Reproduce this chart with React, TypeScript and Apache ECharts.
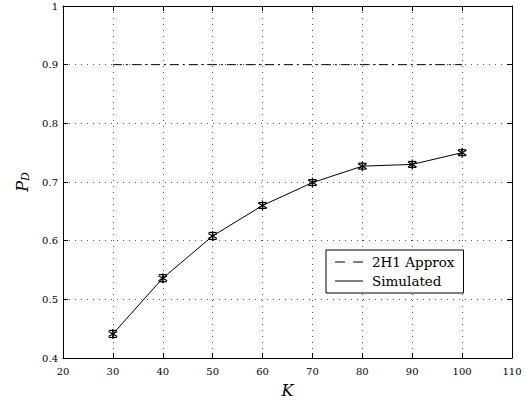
import React, { useEffect, useRef } from "react";
import * as echarts from "echarts";

const kValues = [30, 40, 50, 60, 70, 80, 90, 100];
const simulated = [0.441, 0.536, 0.608, 0.66, 0.699, 0.727, 0.73, 0.75];
const simErr = [0.006, 0.006, 0.006, 0.005, 0.005, 0.005, 0.005, 0.005];
const approx = [0.9, 0.9, 0.9, 0.9, 0.9, 0.9, 0.9, 0.9];

const FONT = "DejaVu Serif";

export default function App() {
  const ref = useRef<HTMLDivElement>(null);
  useEffect(() => {
    if (!ref.current) return;
    const chart = echarts.init(ref.current, null, { renderer: "svg" });
    const axisCommon = {
      axisLine: { show: true, lineStyle: { color: "#000", width: 1 } },
      axisTick: { show: true, inside: true, length: 5, lineStyle: { color: "#000" } },
    };
    const option: any = {
      animation: false,
      backgroundColor: "#fff",
      grid: { left: 63, top: 6, right: 14, bottom: 43, containLabel: false },
      xAxis: [
        {
          type: "value",
          min: 20,
          max: 110,
          interval: 10,
          ...axisCommon,
          axisLabel: { color: "#000", fontFamily: FONT, fontSize: 10, margin: 8 },
          splitLine: { show: true, lineStyle: { color: "#555", type: [1, 5], width: 1 } },
          name: "K",
          nameLocation: "middle",
          nameGap: 24,
          nameTextStyle: { fontFamily: FONT, fontStyle: "italic", fontSize: 16, color: "#000" },
        },
        {
          type: "value",
          position: "top",
          min: 20,
          max: 110,
          interval: 10,
          ...axisCommon,
          axisLabel: { show: false },
          splitLine: { show: false },
        },
      ],
      yAxis: [
        {
          type: "value",
          min: 0.4,
          max: 1,
          interval: 0.1,
          ...axisCommon,
          axisLabel: {
            color: "#000",
            fontFamily: FONT,
            fontSize: 10,
            margin: 5,
            formatter: (v: number) => (Math.abs(v - 1) < 1e-9 ? "1" : String(Math.round(v * 10) / 10)),
          },
          splitLine: { show: true, lineStyle: { color: "#555", type: [1, 5], width: 1 } },
          name: "{p|P}{d|D}",
          nameLocation: "middle",
          nameGap: 32,
          nameRotate: 90,
          nameTextStyle: {
            color: "#000",
            rich: {
              p: { fontFamily: FONT, fontStyle: "italic", fontSize: 16, color: "#000" },
              d: { fontFamily: FONT, fontStyle: "italic", fontSize: 11, color: "#000", verticalAlign: "bottom", padding: [6, 0, 0, 0] },
            },
          },
        },
        {
          type: "value",
          position: "right",
          min: 0.4,
          max: 1,
          interval: 0.1,
          ...axisCommon,
          axisLabel: { show: false },
          splitLine: { show: false },
        },
      ],
      legend: {
        left: 326,
        top: 250,
        orient: "vertical",
        backgroundColor: "#fff",
        borderColor: "#000",
        borderWidth: 1,
        borderRadius: 0,
        padding: [5, 9, 5, 9],
        itemGap: 5,
        itemWidth: 28,
        itemHeight: 14,
        textStyle: { fontFamily: FONT, fontSize: 13.5, color: "#000", padding: [0, 0, 0, 4] },
        data: [
          { name: "2H1 Approx", icon: "path://M0,7 L10,7 L10,8 L0,8 Z M18,7 L28,7 L28,8 L18,8 Z" },
          { name: "Simulated", icon: "path://M0,7 L28,7 L28,8 L0,8 Z" },
        ],
        itemStyle: { color: "#000" },
      },
      series: [
        {
          name: "2H1 Approx",
          type: "line",
          data: kValues.map((k, i) => [k, approx[i]]),
          symbol: "none",
          lineStyle: { color: "#000", width: 1, type: [9, 4, 2, 4] },
          itemStyle: { color: "#000" },
        },
        {
          name: "Simulated",
          type: "line",
          data: kValues.map((k, i) => [k, simulated[i]]),
          symbol: "none",
          lineStyle: { color: "#000", width: 1 },
          itemStyle: { color: "#000" },
        },
        {
          name: "markers",
          type: "custom",
          data: kValues.map((k, i) => [k, simulated[i], simErr[i]]),
          renderItem: (params: any, api: any) => {
            const x = api.value(0);
            const y = api.value(1);
            const e = api.value(2);
            const c = api.coord([x, y]);
            const top = api.coord([x, y + e]);
            const bot = api.coord([x, y - e]);
            const r = 5;
            const h = 4;
            const s = { stroke: "#000", lineWidth: 1.2 };
            return {
              type: "group",
              children: [
                { type: "line", shape: { x1: top[0], y1: top[1], x2: bot[0], y2: bot[1] }, style: s },
                { type: "line", shape: { x1: top[0] - h, y1: top[1], x2: top[0] + h, y2: top[1] }, style: s },
                { type: "line", shape: { x1: bot[0] - h, y1: bot[1], x2: bot[0] + h, y2: bot[1] }, style: s },
                { type: "line", shape: { x1: c[0], y1: c[1] - r, x2: c[0], y2: c[1] + r }, style: s },
                { type: "line", shape: { x1: c[0] - r * 0.87, y1: c[1] - r * 0.5, x2: c[0] + r * 0.87, y2: c[1] + r * 0.5 }, style: s },
                { type: "line", shape: { x1: c[0] - r * 0.87, y1: c[1] + r * 0.5, x2: c[0] + r * 0.87, y2: c[1] - r * 0.5 }, style: s },
              ],
            };
          },
          z: 5,
        },
      ],
    };
    chart.setOption(option);
    return () => chart.dispose();
  }, []);
  return <div ref={ref} style={{ width: 526, height: 403, position: "absolute", left: 0, top: 0 }} />;
}
